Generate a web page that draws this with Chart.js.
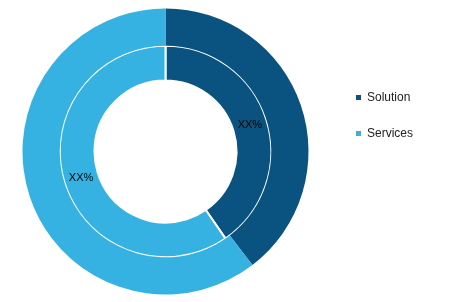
<!DOCTYPE html>
<html>
<head>
<meta charset="utf-8">
<script src="https://cdn.jsdelivr.net/npm/chart.js@4"></script>
<style>
  html, body { margin: 0; padding: 0; background: #fff; }
  .wrap { position: relative; width: 470px; height: 302px; }
  #legend { position: absolute; left: 356px; top: 89px; font: 12px "Liberation Sans", Arial, sans-serif; color: #222; }
  #legend .item { height: 36px; line-height: 17px; white-space: nowrap; }
  #legend .box { display: inline-block; width: 5px; height: 5px; margin-right: 6px; vertical-align: 1px; }
</style>
</head>
<body>
<div class="wrap">
  <canvas id="chartOne" width="470" height="302"></canvas>
  <div id="legend"></div>
</div>
<script>
const categories = ["Solution", "Services"];
const outerValues = [39.6, 60.4];
const innerValues = [40.4, 59.6];
const sliceLabels = ["XX%", "XX%"];
const colors = ["#0a5381", "#36b2e2"];

// XX% labels in the middle of each slice of the inner ring
const sliceText = {
  id: "sliceText",
  afterDatasetsDraw(chart) {
    const ctx = chart.ctx;
    const meta = chart.getDatasetMeta(1);
    ctx.save();
    ctx.font = "11px 'Liberation Sans', Arial, sans-serif";
    ctx.fillStyle = "#000";
    ctx.textAlign = "center";
    ctx.textBaseline = "middle";
    meta.data.forEach((arc, i) => {
      const p = arc.tooltipPosition();
      ctx.fillText(sliceLabels[i], p.x, p.y);
    });
    ctx.restore();
  },
};

const chartOne = document.getElementById("chartOne");
new Chart(chartOne, {
  type: "doughnut",
  data: {
    labels: categories,
    datasets: [
      {
        label: "outer",
        data: outerValues,
        backgroundColor: colors,
        borderWidth: 0,
        weight: 1.07,
      },
      {
        label: "inner",
        data: innerValues,
        backgroundColor: colors,
        borderColor: "#ffffff",
        borderWidth: 2,
        weight: 1,
      },
    ],
  },
  options: {
    responsive: false,
    animation: false,
    cutout: 71,
    layout: { padding: { left: 22.5, top: 8.5, bottom: 7.5, right: 161.5 } },
    plugins: {
      legend: { display: false },
      tooltip: { enabled: false },
    },
    hoverOffset: 0,
  },
  plugins: [sliceText],
});

// legend built from the same arrays
const legend = document.getElementById("legend");
categories.forEach((name, i) => {
  const item = document.createElement("div");
  item.className = "item";
  const box = document.createElement("span");
  box.className = "box";
  box.style.background = colors[i];
  item.appendChild(box);
  item.appendChild(document.createTextNode(name));
  legend.appendChild(item);
});
</script>
</body>
</html>
